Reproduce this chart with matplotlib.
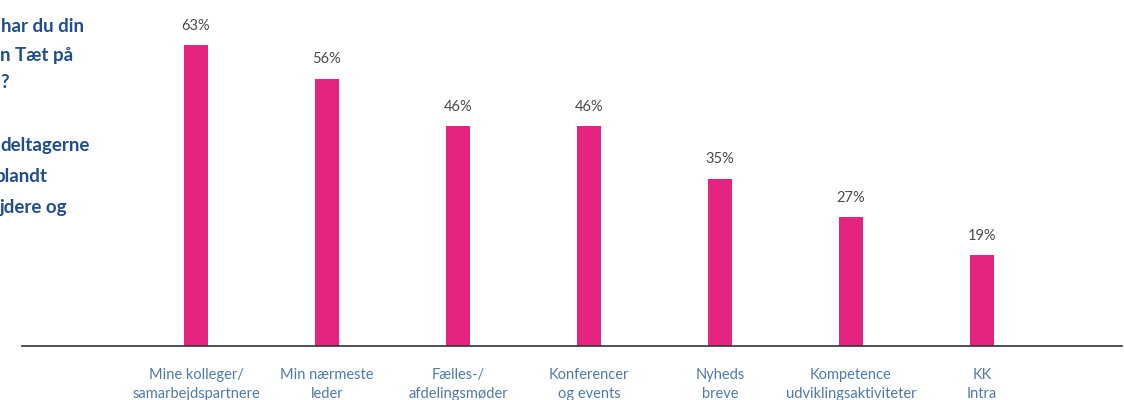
"""
Bar chart: where respondents got their information (Tæt på).
"""
import matplotlib.pyplot as plt

# data
categories = [
    "Mine kolleger/\nsamarbejdspartnere",
    "Min nærmeste\nleder",
    "Fælles-/\nafdelingsmøder",
    "Konferencer\nog events",
    "Nyheds\nbreve",
    "Kompetence\nudviklingsaktiviteter",
    "KK\nIntra",
]
values = [63, 56, 46, 46, 35, 27, 19]
value_labels = ["63%", "56%", "46%", "46%", "35%", "27%", "19%"]

# left side text, cut off at the figure edge as in the source
side_lines = ["har du din", "n Tæt på", "?", "", "deltagerne", "blandt", "jdere og"]

bar_color = "#e5247f"
title_color = "#1f4e8a"
cat_color = "#4f7aa8"
val_color = "#4a4a4a"

plt.rcParams["font.family"] = ["Lato", "DejaVu Sans"]

fig = plt.figure(figsize=(11.24, 4.0), dpi=100)
ax = fig.add_axes([22 / 1124, 1 - 346 / 400, 1100 / 1124, 346 / 400])

x = list(range(len(values)))
ax.bar(x, values, width=0.18, color=bar_color)

ax.set_xlim(-1.328, 7.069)
ax.set_ylim(0, 72.5)

for xi, v, lab in zip(x, values, value_labels):
    ax.annotate(lab, (xi, v), xytext=(0, 9), textcoords="offset points",
                ha="center", va="bottom", fontsize=10.5, color=val_color)

for xi, cat in zip(x, categories):
    ax.annotate(cat, (xi, 0), xytext=(0, -16), textcoords="offset points",
                ha="center", va="top", fontsize=10.5, color=cat_color,
                linespacing=1.45, annotation_clip=False)

for side in ["top", "right", "left"]:
    ax.spines[side].set_visible(False)
ax.spines["bottom"].set_color("#333333")
ax.spines["bottom"].set_linewidth(1.2)
ax.set_xticks([])
ax.set_yticks([])

# side text
ys = [27, 55, 82, 114, 146, 177, 208]
xs = [1, 0, 0, 0, 0, -5, 0]
for line, yy, xx in zip(side_lines, ys, xs):
    if line:
        fig.text(xx / 1124, 1 - yy / 400, line, ha="left", va="center",
                 fontsize=13.5, fontweight="bold", color=title_color)

fig.savefig("out.png", dpi=100)
